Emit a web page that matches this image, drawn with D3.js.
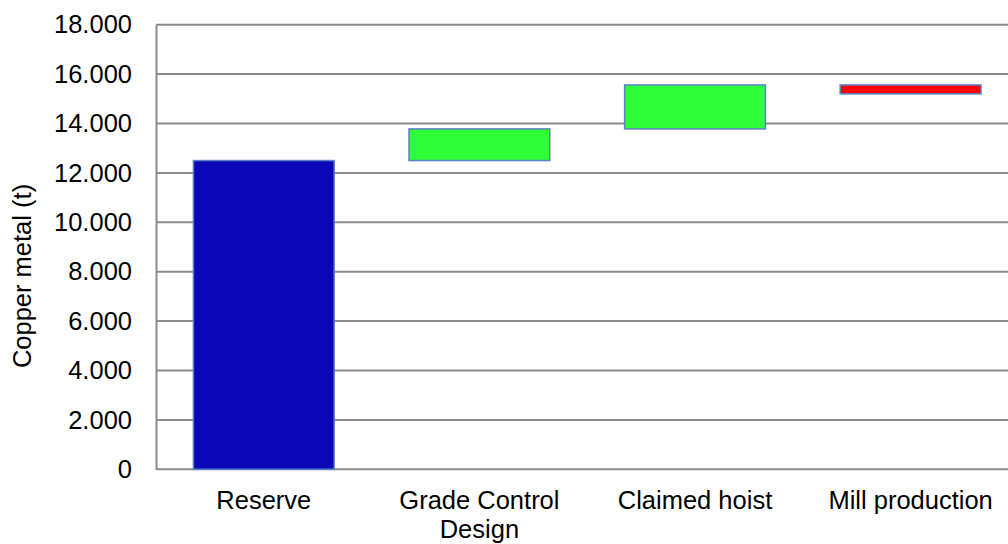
<!DOCTYPE html>
<html><head><meta charset="utf-8">
<script src="https://cdn.jsdelivr.net/npm/d3@7"></script>
<style>
html,body{margin:0;padding:0;background:#fff;}
svg{display:block;font-family:"Liberation Sans",Arial,sans-serif;}
</style></head>
<body><svg id="c" width="1008" height="544"></svg>
<script>
const categories = ["Reserve", "Grade Control Design", "Claimed hoist", "Mill production"];
const labelLines = [["Reserve"], ["Grade Control", "Design"], ["Claimed hoist"], ["Mill production"]];
const startValues = [0, 12500, 13780, 15560];
const endValues = [12500, 13780, 15560, 15200];
const barColors = ["#0c06b6", "#2eff38", "#2eff38", "#ff0000"];
const tickValues = [0, 2000, 4000, 6000, 8000, 10000, 12000, 14000, 16000, 18000];
const tickLabels = ["0", "2.000", "4.000", "6.000", "8.000", "10.000", "12.000", "14.000", "16.000", "18.000"];
const yTitle = "Copper metal (t)";

const svg = d3.select("#c");
const mLeft = 156, mRight = 1018.4, mTop = 24.7, mBottom = 469.3;
const x = d3.scaleBand().domain(categories).range([mLeft, mRight]).paddingInner(0.347).paddingOuter(0.1735);
const y = d3.scaleLinear().domain([0, 18000]).range([mBottom, mTop]);
const FF = "'Liberation Sans', Arial, sans-serif";

// gridlines
svg.append("g").selectAll("line").data(tickValues.filter(v => v > 0)).join("line")
  .attr("x1", mLeft).attr("x2", 1010)
  .attr("y1", d => y(d)).attr("y2", d => y(d))
  .attr("stroke", "#8c8c8c").attr("stroke-width", 2);

// y axis
const yAxis = d3.axisLeft(y).tickValues(tickValues).tickSize(0).tickPadding(24)
  .tickFormat((d, i) => tickLabels[i]);
const gy = svg.append("g").attr("transform", `translate(${mLeft},0)`).call(yAxis);
gy.select(".domain").attr("stroke", "#8c8c8c").attr("stroke-width", 2);
gy.selectAll("text").attr("font-size", 25.5).attr("fill", "#000").attr("font-family", FF);

// x axis
const xAxis = d3.axisBottom(x).tickSize(0).tickFormat("");
const gx = svg.append("g").attr("transform", `translate(0,${mBottom})`).call(xAxis);
gx.select(".domain").attr("stroke", "#8c8c8c").attr("stroke-width", 2).attr("d", `M${mLeft},0H1010`);

// bars
svg.append("g").selectAll("rect").data(categories).join("rect")
  .attr("x", d => x(d))
  .attr("width", x.bandwidth())
  .attr("y", (d, i) => y(Math.max(startValues[i], endValues[i])))
  .attr("height", (d, i) => Math.abs(y(startValues[i]) - y(endValues[i])))
  .attr("fill", (d, i) => barColors[i])
  .attr("stroke", "#5a82c4").attr("stroke-width", 1.5);

// category labels (one text element per line)
const lineData = [];
categories.forEach((c, i) => labelLines[i].forEach((ln, j) => lineData.push({c, ln, j})));
svg.append("g").selectAll("text").data(lineData).join("text")
  .attr("x", d => x(d.c) + x.bandwidth() / 2)
  .attr("y", d => 509 + d.j * 29)
  .attr("text-anchor", "middle").attr("font-size", 25.5).attr("fill", "#000")
  .attr("font-family", FF).text(d => d.ln);

// y title
svg.append("text").attr("transform", "translate(31,276) rotate(-90)")
  .attr("text-anchor", "middle").attr("font-size", 25.5).attr("fill", "#000")
  .attr("font-family", FF).text(yTitle);
</script></body></html>
